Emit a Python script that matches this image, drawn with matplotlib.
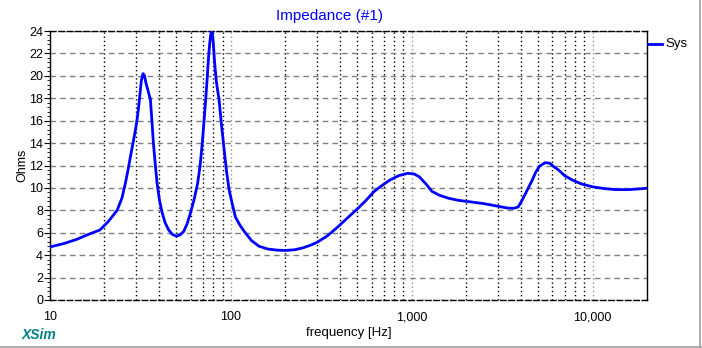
import matplotlib
matplotlib.use("Agg")
import matplotlib.pyplot as plt
from matplotlib.ticker import FixedLocator, MultipleLocator, FuncFormatter, NullFormatter

plt.rcParams['font.family'] = ['Liberation Sans', 'DejaVu Sans']

freq = [10, 12, 14, 16, 18.9, 21, 23.5, 25, 26.1, 27, 28, 29, 29.7, 30.3, 30.8, 31.4, 32, 32.7,
        33.3, 34, 34.8, 35.9, 36.6, 37.3, 38.2, 39.1, 40.3, 41.7, 43.3, 45.3, 47.5, 50, 52.3,
        54.8, 57.3, 59.9, 62.7, 65.5, 67.6, 69.5, 71, 72.6, 74, 75.3, 76.5, 77.4, 78.2, 79,
        80, 81.3, 83, 84.5, 86, 88.8, 91.8, 94.8, 97.9, 102, 106, 112, 118.8, 130, 143, 160,
        180, 200, 225, 250, 275, 300, 340, 383, 440, 506, 560, 621, 690, 757, 850, 950, 1030,
        1100, 1200, 1292, 1420, 1597, 1800, 2057, 2500, 3029, 3400, 3665, 3880, 4087, 4350,
        4642, 4850, 5100, 5476, 5800, 6100, 6479, 7000, 7743, 8700, 10000, 11500, 13400,
        16000, 20000]
ohms = [4.73, 5.05, 5.4, 5.8, 6.25, 7.0, 8.0, 9.1, 10.4, 11.6, 13.0, 14.3, 15.2, 16.1, 17.0,
        18.3, 19.6, 20.2, 20.0, 19.3, 18.7, 17.9, 16.0, 14.0, 12.1, 10.4, 8.9, 7.8, 6.9, 6.25,
        5.85, 5.7, 5.8, 6.1, 6.8, 7.8, 9.0, 10.4, 12.0, 14.0, 15.9, 17.9, 19.8, 21.7, 23.0,
        23.7, 24.0, 23.8, 22.9, 21.2, 19.6, 18.7, 17.9, 15.6, 13.4, 11.4, 9.8, 8.5, 7.4, 6.7,
        6.1, 5.3, 4.8, 4.55, 4.45, 4.42, 4.48, 4.65, 4.88, 5.15, 5.7, 6.4, 7.3, 8.2, 8.9,
        9.7, 10.25, 10.7, 11.1, 11.3, 11.25, 11.0, 10.35, 9.7, 9.35, 9.08, 8.9, 8.78, 8.6,
        8.35, 8.2, 8.18, 8.3, 8.93, 9.8, 10.7, 11.4, 11.95, 12.26, 12.2, 11.9, 11.6, 11.1,
        10.7, 10.35, 10.1, 9.95, 9.85, 9.85, 9.97]

xticks = [10, 100, 1000, 10000]
xtick_labels = ['10', '100', '1,000', '10,000']

fig = plt.figure(figsize=(7.02, 3.48), dpi=100)
ax = fig.add_axes([50/702, 1-300/348, 597/702, 269/348])

ax.plot(freq, ohms, color='#0000ff', lw=2, label='Sys', zorder=3, solid_joinstyle='round')
ax.set_xscale('log')
ax.set_xlim(10, 20000)
ax.set_ylim(0, 24)

ax.xaxis.set_major_locator(FixedLocator(xticks))
ax.xaxis.set_major_formatter(FuncFormatter(lambda v, p: xtick_labels[xticks.index(v)] if v in xticks else ''))
minors = [m * d for d in [10, 100, 1000, 10000] for m in range(2, 10) if m * d < 20000]
ax.xaxis.set_minor_locator(FixedLocator(minors))
ax.xaxis.set_minor_formatter(NullFormatter())
ax.tick_params(axis='x', which='both', length=0, labelsize=9, pad=8)

ax.yaxis.set_major_locator(MultipleLocator(2))
ax.yaxis.set_minor_locator(MultipleLocator(0.4))
ax.tick_params(axis='y', which='major', length=4, direction='out', labelsize=9, pad=1)
ax.tick_params(axis='y', which='minor', length=2, direction='out')

# grid
ax.grid(True, axis='y', which='major', color='#808080', ls=(0, (4, 3)), lw=1)
ax.grid(True, axis='x', which='minor', color='black', ls=(0, (1, 2)), lw=1)
ax.grid(True, axis='x', which='major', color='#909090', ls=(0, (1, 2)), lw=1)

for s in ['top', 'bottom']:
    ax.spines[s].set_linestyle((0, (4, 2)))
    ax.spines[s].set_linewidth(1)
ax.spines['left'].set_linewidth(1)
ax.spines['right'].set_linewidth(1)

ax.set_xlabel('frequency [Hz]', fontsize=9.5, labelpad=3)
fig.text(22/702, 1-165/348, 'Ohms', fontsize=9, rotation=90, ha='center', va='center')
fig.text(330/702, 1-16/348, 'Impedance (#1)', color='#0000ff', fontsize=11, ha='center', va='center')

# legend
fig.add_artist(plt.Line2D([648/702, 662/702], [1-44/348, 1-44/348], color='#0000ff', lw=2))
fig.text(665/702, 1-44/348, 'Sys', fontsize=9.5, va='center', ha='left')

fig.text(22/702, 1-335/348, 'XSim', color='#008080', fontsize=10, fontweight='bold', style='italic',
         va='center', ha='left')

# outer frame lines
fig.add_artist(plt.Line2D([700/702, 700/702], [0, 1], color='#a0a0a0', lw=1.2))
fig.add_artist(plt.Line2D([0, 1], [1.5/348, 1.5/348], color='#a0a0a0', lw=1.2))

fig.savefig('out.png', dpi=100)
